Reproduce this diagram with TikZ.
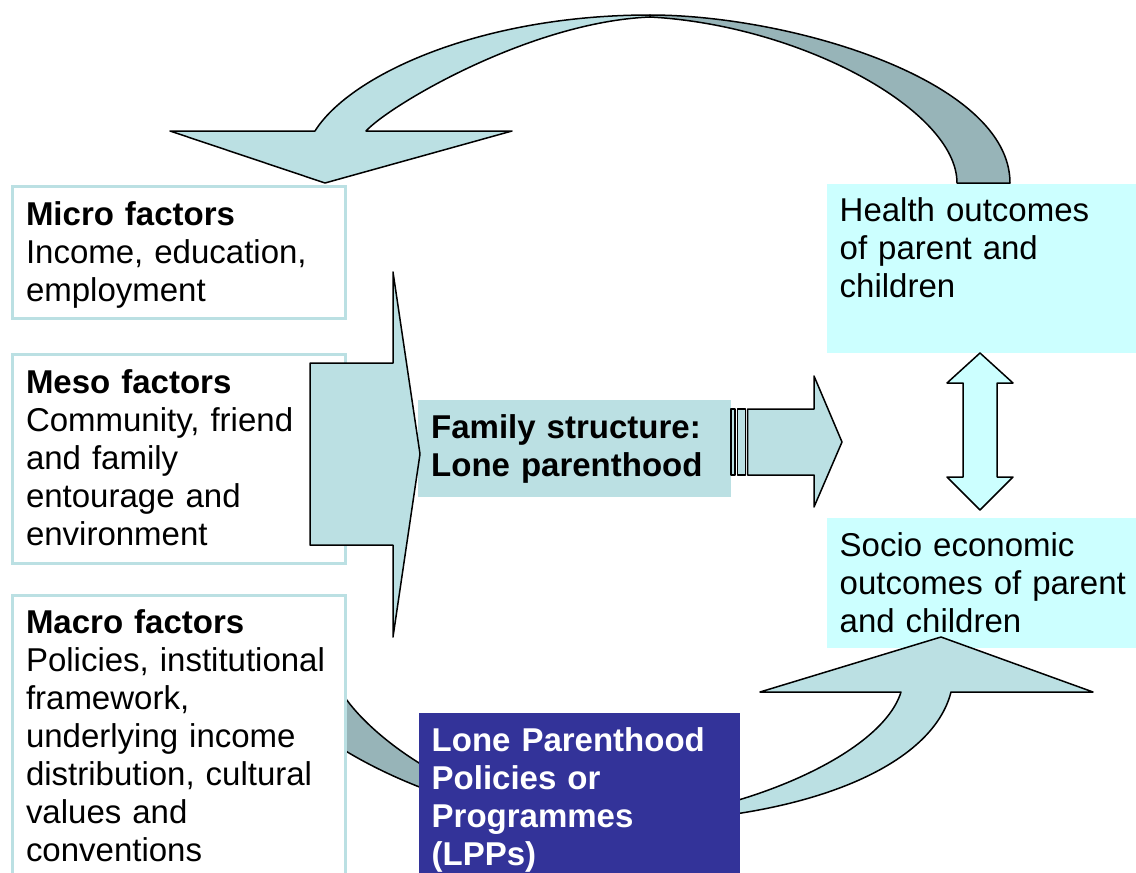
\documentclass[tikz,border=0pt]{standalone}
\usepackage{fontspec}
\setmainfont{Liberation Sans}
\usepackage{tikz}
\definecolor{paleblue}{RGB}{187,224,227}
\definecolor{greyblue}{RGB}{151,180,184}
\definecolor{lightcyan}{RGB}{204,255,255}
\definecolor{lppblue}{RGB}{51,51,153}

\begin{document}
\begin{tikzpicture}[x=1pt,y=-1pt,
	every node/.style={font=\fontsize{33}{38}\selectfont, align=left, anchor=north west, inner ysep=0pt},
	factorbox/.style={draw=paleblue, line width=3pt, fill=white, inner xsep=14pt, text width=305pt},
	outcomebox/.style={fill=lightcyan, inner xsep=12.5pt, text width=288pt},
	boldbox/.style={font=\fontsize{33}{38}\selectfont\bfseries},
	band/.style={draw=black, line width=1.5pt, line join=round}]
	\useasboundingbox (0,0) rectangle (1136,873);

	\node[outcomebox, text height=37.7pt, text depth=131pt] (health) at (827,184) {Health outcomes\\of parent and\\children};
	\node[outcomebox, text height=38.7pt, text depth=91.3pt] (socio) at (827,518) {Socio economic\\outcomes of parent\\and children};

	\draw[band, fill=greyblue] (344,696) .. controls (370,735) and (460,810) .. (600,822) .. controls (480,822) and (385,775) .. (344,750) -- cycle;
	\draw[band, fill=paleblue] (600,822) .. controls (720,822) and (880,760) .. (901,692) -- (760,692) -- (941,637) -- (1093,692) -- (951,692) .. controls (930,775) and (780,826) .. (600,822) -- cycle;

	\node[factorbox, text height=39.8pt, text depth=92.2pt] (micro) at (10.5,184.5) {\textbf{Micro factors}\\Income, education,\\employment};
	\node[factorbox, text height=38.7pt, text depth=170pt] (meso) at (10.5,353) {\textbf{Meso factors}\\Community, friend\\and family\\entourage and\\environment};
	\node[factorbox, text height=38.5pt, text depth=260pt] (macro) at (10.5,593.5) {\textbf{Macro factors}\\Policies, institutional\\framework,\\underlying income\\distribution, cultural\\values and\\conventions};
	\node[boldbox, fill=paleblue, inner xsep=13pt, text width=286.7pt, text height=38pt, text depth=58.7pt] (family) at (418,400) {Family structure:\\Lone parenthood};
	\node[boldbox, fill=lppblue, text=white, inner xsep=12.5pt, text width=296pt, text height=38pt, text depth=130pt] (lpp) at (419,713) {Lone Parenthood\\Policies or\\Programmes\\(LPPs)};

	\draw[band, fill=paleblue] (310,363) -- (393,363) -- (393,272) -- (420,454) -- (393,637) -- (393,545) -- (310,545) -- cycle;

	\draw[band, fill=paleblue] (731,409) rectangle (735,475);
	\draw[band, fill=paleblue] (737.5,409) rectangle (745.5,475);
	\draw[band, fill=paleblue] (747.5,409) -- (814,409) -- (814,376) -- (842,442) -- (814,507) -- (814,475) -- (747.5,475) -- cycle;

	\draw[band, fill=lightcyan] (980,353) -- (1013,383) -- (997,383) -- (997,477) -- (1013,477) -- (980,510) -- (947,477) -- (963,477) -- (963,383) -- (947,383) -- cycle;

	\draw[band, fill=greyblue] (650,15) .. controls (790,15) and (1010,80) .. (1010,183) -- (957,183) .. controls (957,110) and (800,25) .. (650,17) -- cycle;
	\draw[band, fill=paleblue] (650,15) .. controls (480,15) and (350,75) .. (315,131) -- (170,131) -- (325,183) -- (512,131) -- (366,131) .. controls (390,105) and (530,22) .. (650,17) -- cycle;
\end{tikzpicture}
\end{document}
